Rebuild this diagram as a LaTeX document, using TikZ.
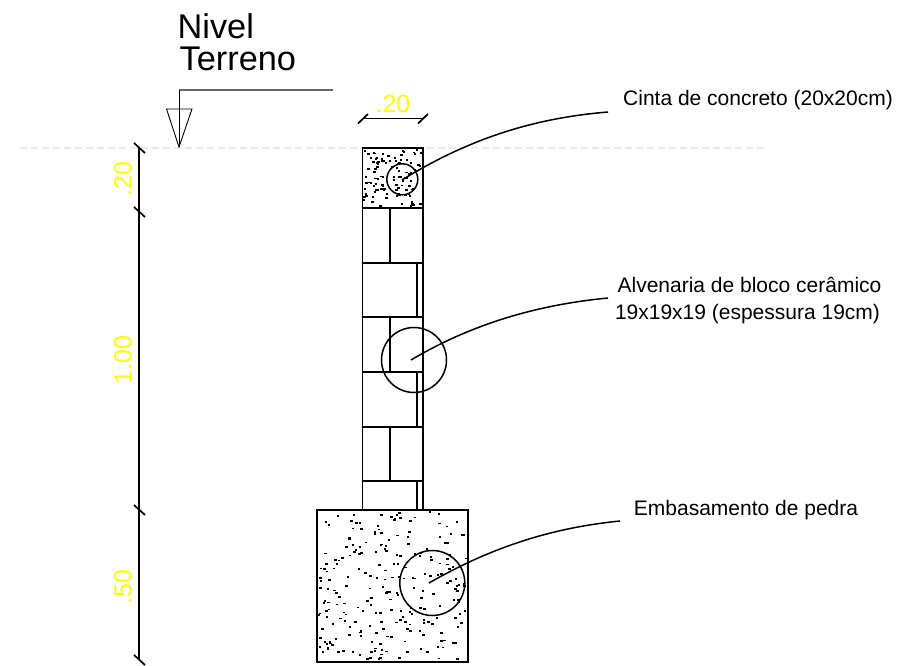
\documentclass[tikz,border=0pt]{standalone}
\usepackage{fontspec}
\setmainfont{Liberation Sans}
\definecolor{dimyellow}{RGB}{255,255,0}
\tikzset{
  wall/.style={draw=black,line width=1.7pt},
  bold/.style={draw=black,line width=2pt},
  leader/.style={draw=black,line width=1.5pt},
  note/.style={inner sep=0pt,font=\fontsize{21}{24}\selectfont,text=black,anchor=base},
  dimtxt/.style={inner sep=0pt,font=\fontsize{25}{24}\selectfont,text=dimyellow},
  levtxt/.style={inner sep=0pt,font=\fontsize{34.3}{34}\selectfont,text=black,anchor=base west},
}
\newcommand{\stip}[6]{% x0 x1 y0 y1 count seed
  \pgfmathsetseed{#6}
  \foreach \i in {1,...,#5}{
    \pgfmathsetmacro{\px}{#1+rnd*(#2-#1)}
    \pgfmathsetmacro{\py}{#3+rnd*(#4-#3)}
    \fill[black] (\px-1.2,\py-.9) rectangle (\px+1.2,\py+.9);
  }}
\begin{document}
\begin{tikzpicture}[x=1pt,y=-1pt]
\useasboundingbox (0,0) rectangle (897,665);
\fill[white] (0,0) rectangle (897,665);
% ground line
\coordinate (gl) at (20,148); \coordinate (gr) at (766,148);
\draw[draw=black!8,line width=1.2pt,dash pattern=on 7pt off 4pt] (gl) -- (gr);
% level mark
\coordinate (la) at (333,90); \coordinate (lb) at (179,90); \coordinate (lc) at (179,147);
\draw[draw=black!60,line width=1.3pt] (la) -- (lb);
\draw[draw=black,line width=.9pt] (lb) -- (lc);
\draw[draw=black,line width=.9pt] (166.5,109) -- (192,109) -- (lc) -- cycle;
\node[levtxt] (nivel) at (177.5,38) {Nivel};
\node[levtxt] (terreno) at (179.5,70) {Terreno};
% concrete stipple
\stip{364}{422}{150}{207}{105}{11}
\draw[wall] (362.5,148) rectangle (423,208);
% bricks
\draw[wall] (362.5,208) -- (362.5,510);
\draw[wall] (423,208) -- (423,510);
\foreach \y in {262.7,317.3,372,426.7,481.3}{\draw[wall] (362.5,\y) -- (423,\y);}
\foreach \a/\b in {208/262.7,317.3/372,426.7/481.3}{\draw[wall] (389.7,\a) -- (389.7,\b);}
\foreach \a/\b in {262.7/317.3,372/426.7,481.3/510}{\draw[wall] (417.3,\a) -- (417.3,\b);}
% foundation
\stip{319}{467}{512}{660}{240}{23}
\draw[bold] (317,510.3) rectangle (468,661.5);
% circles
\node[draw=black,line width=1.5pt,circle,minimum size=31pt,inner sep=0pt] (c1) at (402.3,179.3) {};
\node[draw=black,line width=1.5pt,circle,minimum size=65pt,inner sep=0pt] (c2) at (414,360) {};
\node[draw=black,line width=1.5pt,circle,minimum size=65pt,inner sep=0pt] (c3) at (432.3,583) {};
% leaders
\coordinate (a1) at (402,180); \coordinate (e1) at (608,112);
\coordinate (a2) at (411,360); \coordinate (e2) at (608,298);
\coordinate (a3) at (429,583); \coordinate (e3) at (620,521);
\draw[leader] (a1) .. controls (470,138) and (535,118) .. (e1);
\draw[leader] (a2) .. controls (470,325) and (535,305) .. (e2);
\draw[leader] (a3) .. controls (490,548) and (550,528) .. (e3);
\node[note] (t1) at (758,105) {Cinta de concreto (20x20cm)};
\node[note] (t2) at (749.5,292) {Alvenaria de bloco cerâmico};
\node[note] (t3) at (747.5,319) {19x19x19 (espessura 19cm)};
\node[note] (t4) at (746,515) {Embasamento de pedra};
% top dimension
\coordinate (d1) at (362.5,118.5); \coordinate (d2) at (423,118.5);
\draw[wall] (d1) -- (d2);
\draw[wall] (358,123.5) -- (368,114); \draw[wall] (418,123.5) -- (428,114);
\node[dimtxt] (dt) at (393,104) {.20};
% left dimension
\coordinate (v1) at (139,148); \coordinate (v2) at (139,660);
\draw[wall] (v1) -- (v2);
\foreach \y in {148,212,510,660}{\draw[wall] (134,\y-5) -- (145,\y+5);}
\node[dimtxt,rotate=90] (d20) at (123,179) {.20};
\node[dimtxt,rotate=90] (d100) at (123,360) {1.00};
\node[dimtxt,rotate=90] (d50) at (123,587) {.50};
\end{tikzpicture}
\end{document}
